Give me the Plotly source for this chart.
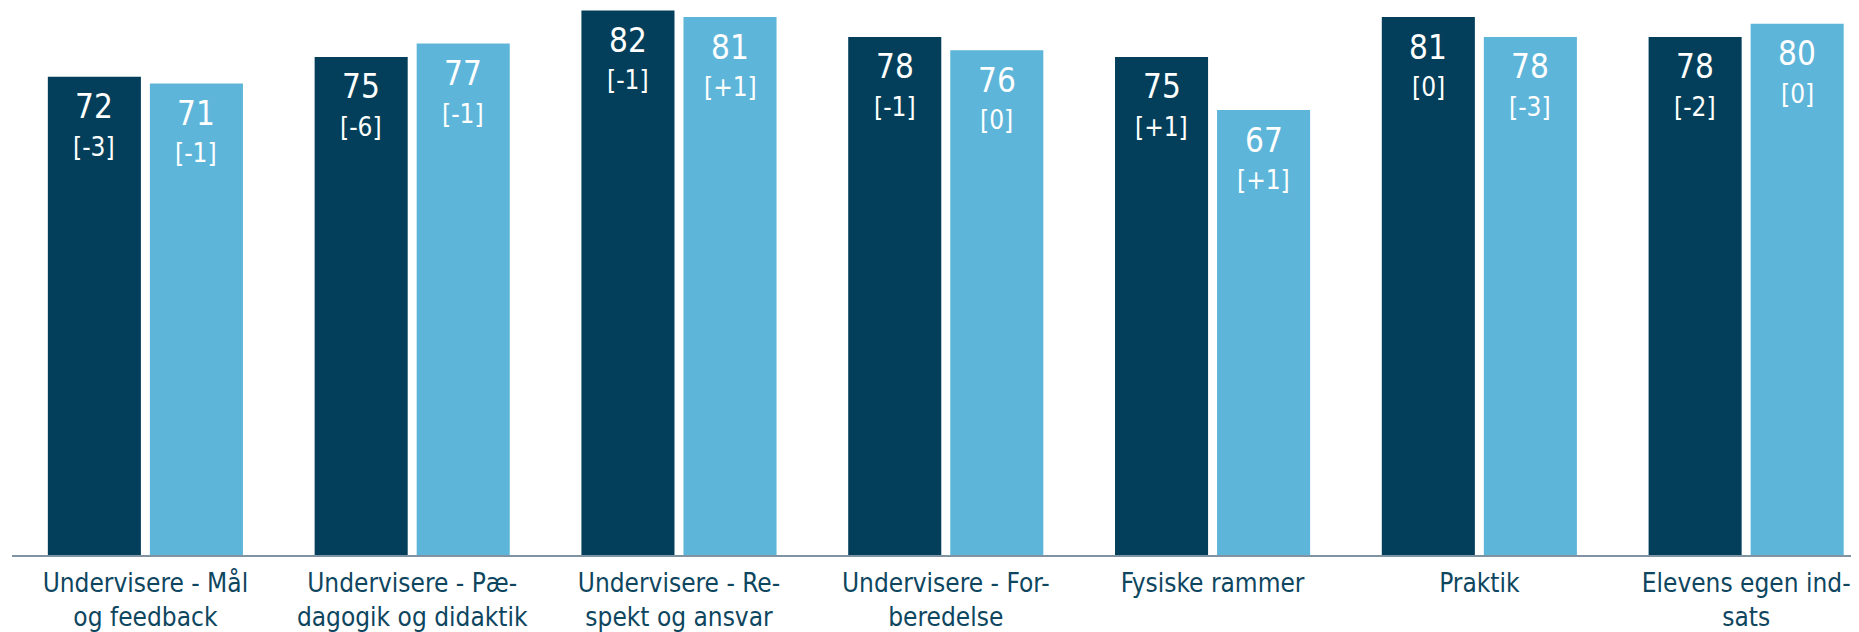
import plotly.graph_objects as go

categories = [
    "Undervisere - Mål<br>og feedback",
    "Undervisere - Pæ-<br>dagogik og didaktik",
    "Undervisere - Re-<br>spekt og ansvar",
    "Undervisere - For-<br>beredelse",
    "Fysiske rammer",
    "Praktik",
    "Elevens egen ind-<br>sats",
]
series_a = [72, 75, 82, 78, 75, 81, 78]
change_a = ["[-3]", "[-6]", "[-1]", "[-1]", "[+1]", "[0]", "[-2]"]
series_b = [71, 77, 81, 76, 67, 78, 80]
change_b = ["[-1]", "[-1]", "[+1]", "[0]", "[+1]", "[-3]", "[0]"]

DARK = "#033F5A"
LIGHT = "#5EB5DA"
TEXT = "#0E4660"
FONT = "'DejaVu Sans Condensed', Tahoma, 'DejaVu Sans', sans-serif"
BARGAP = 0.235
BARGROUPGAP = 0.088

fig = go.Figure()
fig.add_trace(go.Bar(x=categories, y=series_a, marker=dict(color=DARK, line=dict(width=0)),
                     hoverinfo="skip", showlegend=False))
fig.add_trace(go.Bar(x=categories, y=series_b, marker=dict(color=LIGHT, line=dict(width=0)),
                     hoverinfo="skip", showlegend=False))

d = (1 - BARGAP) / 4
annotations = []
for i in range(len(categories)):
    for off, val, chg in ((-d, series_a[i], change_a[i]), (d, series_b[i], change_b[i])):
        annotations.append(dict(x=i + off, y=val, xref="x", yref="y", text=str(val),
                                showarrow=False, yanchor="middle", yshift=-30,
                                font=dict(family=FONT, size=33, color="white")))
        annotations.append(dict(x=i + off, y=val, xref="x", yref="y", text=chg,
                                showarrow=False, yanchor="middle", yshift=-70,
                                font=dict(family=FONT, size=26, color="white")))

fig.update_layout(
    width=1851, height=624,
    margin=dict(l=4, r=0, t=0, b=73),
    paper_bgcolor="white", plot_bgcolor="white",
    barmode="group", bargap=BARGAP, bargroupgap=BARGROUPGAP,
    font=dict(family=FONT, size=26, color=TEXT),
    annotations=annotations,
    xaxis=dict(range=[-0.5, 6.423], showline=True, linecolor="#7F93A3", linewidth=2,
               ticks="", showgrid=False, zeroline=False, fixedrange=True,
               ticklabelstandoff=4,
               tickfont=dict(family=FONT, size=26, color=TEXT)),
    yaxis=dict(range=[0, 82.36], visible=False, showgrid=False, zeroline=False, fixedrange=True),
)

fig.write_html("out.html", config={"displayModeBar": False})
